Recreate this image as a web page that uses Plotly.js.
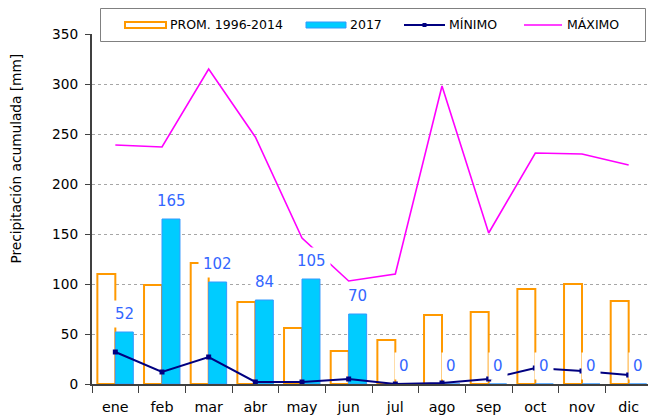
<!DOCTYPE html>
<html><head><meta charset="utf-8">
<script src="https://cdn.plot.ly/plotly-3.0.1.min.js"></script>
<style>html,body{margin:0;padding:0;background:#fff;overflow:hidden}#chart{width:652px;height:418px}</style>
</head><body><div id="chart"></div>
<script>
const months = ['ene','feb','mar','abr','may','jun','jul','ago','sep','oct','nov','dic'];
const prom = [110, 99, 121, 82, 56, 33, 44, 69, 72, 95, 100, 83];
const y2017 = [52, 165, 102, 84, 105, 70, 0, 0, 0, 0, 0, 0];
const minimo = [32, 12, 27, 2, 2, 5, 0, 1, 5, 16, 13, 9];
const maximo = [239, 237, 315, 247, 146, 103, 110, 298, 151, 231, 230, 219];
const seriesNames = ['PROM. 1996-2014', '2017', 'MÍNIMO', 'MÁXIMO'];
const yTitle = 'Precipitación acumulada [mm]';

const FONT = 'DejaVu Sans, Verdana, sans-serif';
const W = 652, H = 418, L = 92, R = 0, T = 34, B = 34;
const PW = W - L - R, PH = H - T - B;
const px = v => (v - L) / PW;          // pixel x -> paper x
const py = v => (H - B - v) / PH;      // pixel y -> paper y

const COLORS = {prom:'#ff9900', c2017:'#00ccff', c2017line:'#3399ff', min:'#000080', max:'#ff00ff', label:'#3366ff'};

const traces = [
  {type:'bar', name:seriesNames[0], x:months, y:prom, showlegend:false,
   marker:{color:'#ffffff', line:{color:COLORS.prom, width:2}}},
  {type:'bar', name:seriesNames[1], x:months, y:y2017, showlegend:false,
   marker:{color:COLORS.c2017, line:{color:COLORS.c2017line, width:1}}},
  {type:'scatter', mode:'lines+markers', name:seriesNames[2], x:months, y:minimo, showlegend:false,
   line:{color:COLORS.min, width:2}, marker:{symbol:'square', size:5, color:COLORS.min}},
  {type:'scatter', mode:'lines', name:seriesNames[3], x:months, y:maximo, showlegend:false,
   line:{color:COLORS.max, width:1.6}}
];

const annotations = months.map((m,i)=>({
  x:m, y:y2017[i], xref:'x', yref:'y', text:String(y2017[i]),
  showarrow:false, xshift:9, yshift:18, bgcolor:'#ffffff', borderpad:4,
  font:{family:FONT, size:15, color:COLORS.label}
}));

// y-axis title
annotations.push({xref:'paper', yref:'paper', x:px(15.5), y:py(159), text:yTitle, textangle:-90,
  showarrow:false, xanchor:'center', yanchor:'middle', font:{family:FONT, size:13.7, color:'#000'}});

// custom legend (box, symbols, labels)
const legY = 25;
const legItems = [
  {name:seriesNames[0], x0:125, x1:166, tx:169, kind:'rect', fill:'#ffffff', line:COLORS.prom, lw:2},
  {name:seriesNames[1], x0:306, x1:346, tx:349, kind:'rect', fill:COLORS.c2017, line:COLORS.c2017line, lw:1},
  {name:seriesNames[2], x0:404, x1:445, tx:448, kind:'line', line:COLORS.min, lw:2, marker:true},
  {name:seriesNames[3], x0:524, x1:562, tx:566, kind:'line', line:COLORS.max, lw:1.6}
];
const shapes = [
  {type:'rect', xref:'paper', yref:'paper', x0:px(100.5), x1:px(645.5), y0:py(8.5), y1:py(41.5),
   fillcolor:'#ffffff', line:{color:'#808080', width:1}, layer:'above'}
];
legItems.forEach(it=>{
  if(it.kind==='rect'){
    shapes.push({type:'rect', xref:'paper', yref:'paper', x0:px(it.x0), x1:px(it.x1), y0:py(legY+3), y1:py(legY-3),
      fillcolor:it.fill, line:{color:it.line, width:it.lw}, layer:'above'});
  } else {
    shapes.push({type:'line', xref:'paper', yref:'paper', x0:px(it.x0), x1:px(it.x1), y0:py(legY), y1:py(legY),
      line:{color:it.line, width:it.lw}, layer:'above'});
    if(it.marker){
      const cx=(it.x0+it.x1)/2;
      shapes.push({type:'rect', xref:'paper', yref:'paper', x0:px(cx-2), x1:px(cx+2), y0:py(legY+2), y1:py(legY-2),
        fillcolor:it.line, line:{width:0}, layer:'above'});
    }
  }
  annotations.push({xref:'paper', yref:'paper', x:px(it.tx), y:py(legY), text:it.name, showarrow:false,
    xanchor:'left', yanchor:'middle', borderpad:0, font:{family:FONT, size:12.5, color:'#000'}});
});

const layout = {
  width:W, height:H,
  margin:{l:L, r:R, t:T, b:B, autoexpand:false},
  paper_bgcolor:'#ffffff', plot_bgcolor:'#ffffff',
  font:{family:FONT, size:14, color:'#000000'},
  barmode:'group', bargap:0.23, bargroupgap:0,
  showlegend:false,
  xaxis:{type:'category', range:[-0.5, months.length - 0.5], autorange:false,
    showline:true, linecolor:'#404040', linewidth:2, automargin:false,
    ticks:'outside', tickson:'boundaries', ticklen:7, tickcolor:'#404040', showgrid:false,
    ticklabelstandoff:9, tickfont:{family:FONT, size:14.3}},
  yaxis:{range:[0,350], dtick:50, showline:true, linecolor:'#404040', linewidth:2, automargin:false,
    ticks:'outside', ticklen:5, tickcolor:'#404040', ticklabelstandoff:4,
    showgrid:true, gridcolor:'#a6a6a6', griddash:'dot', gridwidth:1, zeroline:false,
    tickfont:{family:FONT, size:13.7}},
  annotations:annotations,
  shapes:shapes
};
Plotly.newPlot('chart', traces, layout, {displayModeBar:false, staticPlot:true});
</script></body></html>
